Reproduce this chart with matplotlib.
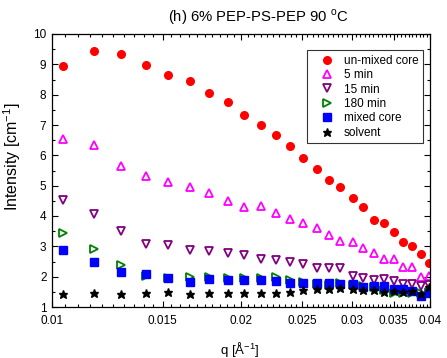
import matplotlib
matplotlib.use("Agg")
import matplotlib.pyplot as plt
from matplotlib.ticker import FixedLocator, FixedFormatter, MultipleLocator, NullFormatter

plt.rcParams['font.family'] = ['Liberation Sans', 'DejaVu Sans']
plt.rcParams['mathtext.fontset'] = 'custom'
plt.rcParams['mathtext.rm'] = 'Liberation Sans'

q = [0.01042, 0.01165, 0.01288, 0.01411, 0.01532, 0.01659, 0.0178, 0.01905,
     0.02024, 0.0215, 0.02272, 0.02394, 0.02515, 0.0264, 0.02759, 0.02879,
     0.03012, 0.03129, 0.03254, 0.03379, 0.03502, 0.03623, 0.03745, 0.0387, 0.03981]

unmixed = [8.94, 9.43, 9.35, 8.98, 8.64, 8.44, 8.07, 7.77, 7.33, 7.01, 6.66, 6.30,
           5.91, 5.55, 5.19, 4.95, 4.59, 4.31, 3.88, 3.78, 3.46, 3.14, 3.02, 2.74, 2.44]
min5 = [6.54, 6.34, 5.65, 5.32, 5.11, 4.97, 4.77, 4.50, 4.31, 4.34, 4.09, 3.89,
        3.76, 3.59, 3.38, 3.19, 3.14, 2.94, 2.79, 2.57, 2.59, 2.31, 2.31, 1.98, 2.01]
min15 = [4.53, 4.08, 3.50, 3.07, 3.04, 2.88, 2.86, 2.79, 2.71, 2.58, 2.55, 2.47,
         2.41, 2.28, 2.28, 2.28, 2.03, 1.97, 1.89, 1.91, 1.87, 1.77, 1.76, 1.69, 1.72]
min180 = [3.45, 2.92, 2.38, 2.02, 1.97, 1.98, 2.00, 1.95, 1.97, 1.97, 1.99, 1.89,
          1.82, 1.77, 1.73, 1.80, 1.73, 1.69, 1.66, 1.56, 1.46, 1.45, 1.47, 1.45, 1.50]
mixed = [2.87, 2.47, 2.15, 2.09, 1.96, 1.82, 1.91, 1.90, 1.89, 1.89, 1.85, 1.80,
         1.78, 1.80, 1.78, 1.75, 1.76, 1.65, 1.70, 1.69, 1.58, 1.58, 1.54, 1.36, 1.47]
solvent = [1.43, 1.45, 1.44, 1.47, 1.49, 1.42, 1.45, 1.45, 1.45, 1.45, 1.47, 1.50,
           1.56, 1.59, 1.60, 1.62, 1.58, 1.56, 1.55, 1.50, 1.52, 1.48, 1.53, 1.44, 1.67]

xticks = [0.01, 0.015, 0.02, 0.025, 0.03, 0.035, 0.04]
xticklabels = ['0.01', '0.015', '0.02', '0.025', '0.03', '0.035', '0.04']

fig = plt.figure(figsize=(4.47, 3.58), dpi=100)
ax = fig.add_axes([52/447, 51/358, 378/447, 273/358])

ms = 5.2
ax.plot(q, unmixed, 'o', color='#ff0000', ms=ms + 0.3, mec='#ff0000', label='un-mixed core')
ax.plot(q, min5, '^', color='#ff00ff', ms=ms, mfc='none', mew=1.3, label='5 min')
ax.plot(q, min15, 'v', color='#800080', ms=ms, mfc='none', mew=1.3, label='15 min')
ax.plot(q, min180, '>', color='#008000', ms=ms, mfc='none', mew=1.3, label='180 min')
ax.plot(q, mixed, 's', color='#0000ff', ms=ms, label='mixed core')
ax.plot(q, solvent, '*', color='black', ms=ms + 1.2, label='solvent')

ax.set_xscale('log')
ax.set_xlim(0.01, 0.04)
ax.set_ylim(1, 10)
ax.xaxis.set_major_locator(FixedLocator(xticks))
ax.xaxis.set_major_formatter(FixedFormatter(xticklabels))
minor = [0.01 + 0.0005 * k for k in range(1, 60)]
ax.xaxis.set_minor_locator(FixedLocator(minor))
ax.xaxis.set_minor_formatter(NullFormatter())
ax.yaxis.set_major_locator(MultipleLocator(1))
ax.yaxis.set_minor_locator(MultipleLocator(0.5))

ax.tick_params(which='both', direction='in', top=True, right=True, labelsize=8.5, width=0.8)
ax.tick_params(which='major', length=4)
ax.tick_params(which='minor', length=2)
ax.tick_params(axis='y', pad=4)
ax.tick_params(axis='x', pad=6)
for s in ax.spines.values():
    s.set_linewidth(0.9)

ax.set_xlabel(r'q [$\mathrm{\AA}^{\mathrm{-1}}$]', fontsize=9.5)
ax.xaxis.set_label_coords(0.497, -0.12)
ax.set_ylabel(r'Intensity [cm$^{\mathrm{-1}}$]', fontsize=11.5)
ax.yaxis.set_label_coords(-0.077, 0.55)

fig.text(258/447, 1 - 17/358, r'(h) 6% PEP-PS-PEP 90 $^{\mathrm{o}}$C', ha='center', va='center', fontsize=10.7)

leg = ax.legend(loc='upper right', bbox_to_anchor=(0.982, 0.941), fontsize=8.5,
                frameon=True, fancybox=False, edgecolor='black', handlelength=2.5,
                handletextpad=0.2, labelspacing=0.2, borderpad=0.4, borderaxespad=0)
leg.get_frame().set_linewidth(0.8)

fig.savefig('out.png', dpi=100)
